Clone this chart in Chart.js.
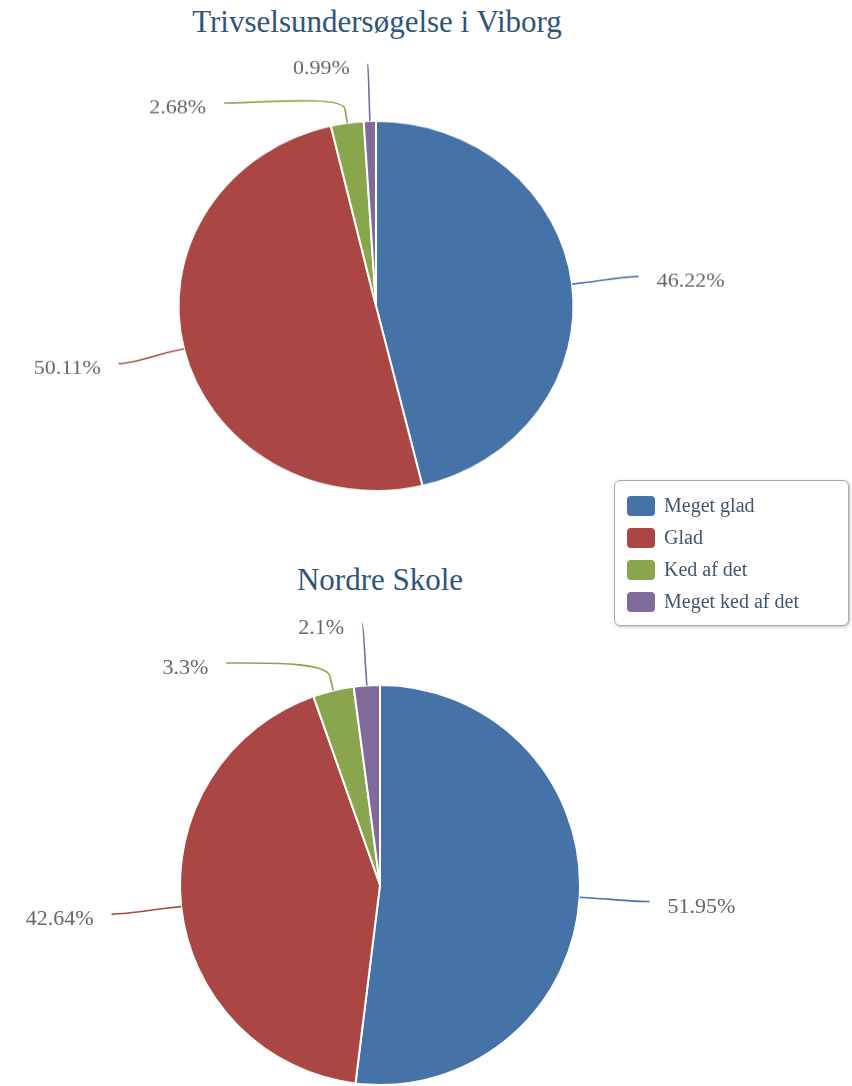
<!DOCTYPE html>
<html>
<head>
<meta charset="utf-8">
<script src="https://cdn.jsdelivr.net/npm/chart.js"></script>
<style>
    html, body { margin: 0; padding: 0; background: #fff; }
    body { width: 852px; height: 1086px; position: relative; overflow: hidden; font-family: 'Liberation Serif', 'Times New Roman', serif; }
    .title { position: absolute; left: 0; width: 760px; text-align: center; font-size: 31px; line-height: 31px; color: #2f5479; white-space: nowrap; }
    .box { position: absolute; left: 0; width: 852px; }
    #legend { position: absolute; left: 614px; top: 480px; width: 233px; height: 144px; border: 1px solid #a9a9a9; border-radius: 6px; box-shadow: 1px 1px 3px rgba(0,0,0,0.25); background: #fff; }
    .item { position: absolute; left: 12px; height: 22px; font-family: 'Liberation Serif', serif; font-size: 20px; line-height: 22px; color: #3e576f; }
    .item span { display: inline-block; width: 28px; height: 20px; border-radius: 4px; vertical-align: -4px; margin-right: 9px; }
</style>
</head>
<body>
<div class="title" id="title1" style="top:6px; width:754px;"></div>
<div class="box" style="top:0; height:540px; transform: scaleY(0.937); transform-origin: 0 0;">
    <canvas id="viborgChart"></canvas>
</div>
<div class="title" id="title2" style="top:564px;"></div>
<div class="box" style="top:560px; height:526px;">
    <canvas id="nordreChart"></canvas>
</div>
<div id="legend"></div>

<script>
const categories = ['Meget glad', 'Glad', 'Ked af det', 'Meget ked af det'];
const viborgValues = [46.22, 50.11, 2.68, 0.99];
const nordreValues = [51.95, 42.64, 3.3, 2.1];
const sliceColors = ['#4572A7', '#AA4643', '#89A54E', '#80699B'];
const titles = ['Trivselsundersøgelse i Viborg', 'Nordre Skole'];

document.getElementById('title1').innerText = titles[0];
document.getElementById('title2').innerText = titles[1];

// legend bygget fra kategorierne
const legendEl = document.getElementById('legend');
categories.forEach((c, i) => {
    const row = document.createElement('div');
    row.className = 'item';
    row.style.top = (13 + i * 32) + 'px';
    row.innerHTML = `<span style="background:${sliceColors[i]}"></span>`;
    row.appendChild(document.createTextNode(c));
    legendEl.appendChild(row);
});

// labels med bløde forbindelseslinjer (som Highcharts)
const pieLabels = {
    id: 'pieLabels',
    afterDraw(chart, args, opts) {
        const ctx = chart.ctx;
        const arcs = chart.getDatasetMeta(0).data;
        const values = chart.data.datasets[0].data;
        const items = arcs.map((arc, i) => {
            const mid = (arc.startAngle + arc.endAngle) / 2;
            const r = arc.outerRadius;
            const R2 = r + opts.distance;
            return {
                i, mid, cx: arc.x, cy: arc.y, r, R2,
                side: Math.cos(mid) >= 0 ? 1 : -1,
                tx: arc.x + Math.cos(mid) * r, ty: arc.y + Math.sin(mid) * r,
                bx: arc.x + Math.cos(mid) * (r + 15), by: arc.y + Math.sin(mid) * (r + 15),
                lx: arc.x + Math.cos(mid) * R2, ly: arc.y + Math.sin(mid) * R2,
                moved: false
            };
        });
        [1, -1].forEach(side => {
            const list = items.filter(it => it.side === side).sort((a, b) => a.ly - b.ly);
            list.forEach((it, k) => {
                let minY = opts.minY;
                if (k > 0) minY = Math.max(minY, list[k - 1].ly + opts.gap);
                if (it.ly < minY) {
                    if (k > 0) it.moved = true;
                    it.ly = minY;
                }
            });
        });
        ctx.save();
        items.forEach(it => {
            if (it.moved) {
                const dy = it.ly - it.cy;
                it.lx = it.cx + it.side * Math.sqrt(Math.max(it.R2 * it.R2 - dy * dy, 0));
            }
            ctx.beginPath();
            ctx.moveTo(it.lx, it.ly);
            ctx.bezierCurveTo(it.lx + (it.bx - it.lx) * 0.3, it.ly, 2 * it.bx - it.tx, 2 * it.by - it.ty, it.bx, it.by);
            ctx.lineTo(it.tx, it.ty);
            ctx.strokeStyle = sliceColors[it.i];
            ctx.lineWidth = 1.6;
            ctx.stroke();

            ctx.font = "22px 'Liberation Serif', serif";
            ctx.fillStyle = '#676767';
            ctx.textBaseline = 'alphabetic';
            ctx.textAlign = it.side > 0 ? 'left' : 'right';
            ctx.fillText(values[it.i] + '%', it.lx + it.side * 18, it.ly + 11);
        });
        ctx.restore();
    }
};

function makePie(id, values, radius, padding, distance, gap, minY) {
    return new Chart(document.getElementById(id).getContext('2d'), {
        type: 'pie',
        data: {
            labels: categories,
            datasets: [{
                data: values,
                backgroundColor: sliceColors,
                borderColor: '#ffffff',
                borderWidth: 2
            }]
        },
        options: {
            responsive: true,
            maintainAspectRatio: false,
            animation: false,
            events: [],
            radius: radius,
            layout: { padding: padding },
            plugins: {
                legend: { display: false },
                tooltip: { enabled: false },
                pieLabels: { distance: distance, gap: gap, minY: minY }
            }
        },
        plugins: [pieLabels]
    });
}

makePie('viborgChart', viborgValues, 197.5, { left: 0, right: 100, top: 129, bottom: 16 }, 67, 42, 68);
makePie('nordreChart', nordreValues, 200, { left: 0, right: 92, top: 125, bottom: 1 }, 70, 40, 63);
</script>
</body>
</html>
